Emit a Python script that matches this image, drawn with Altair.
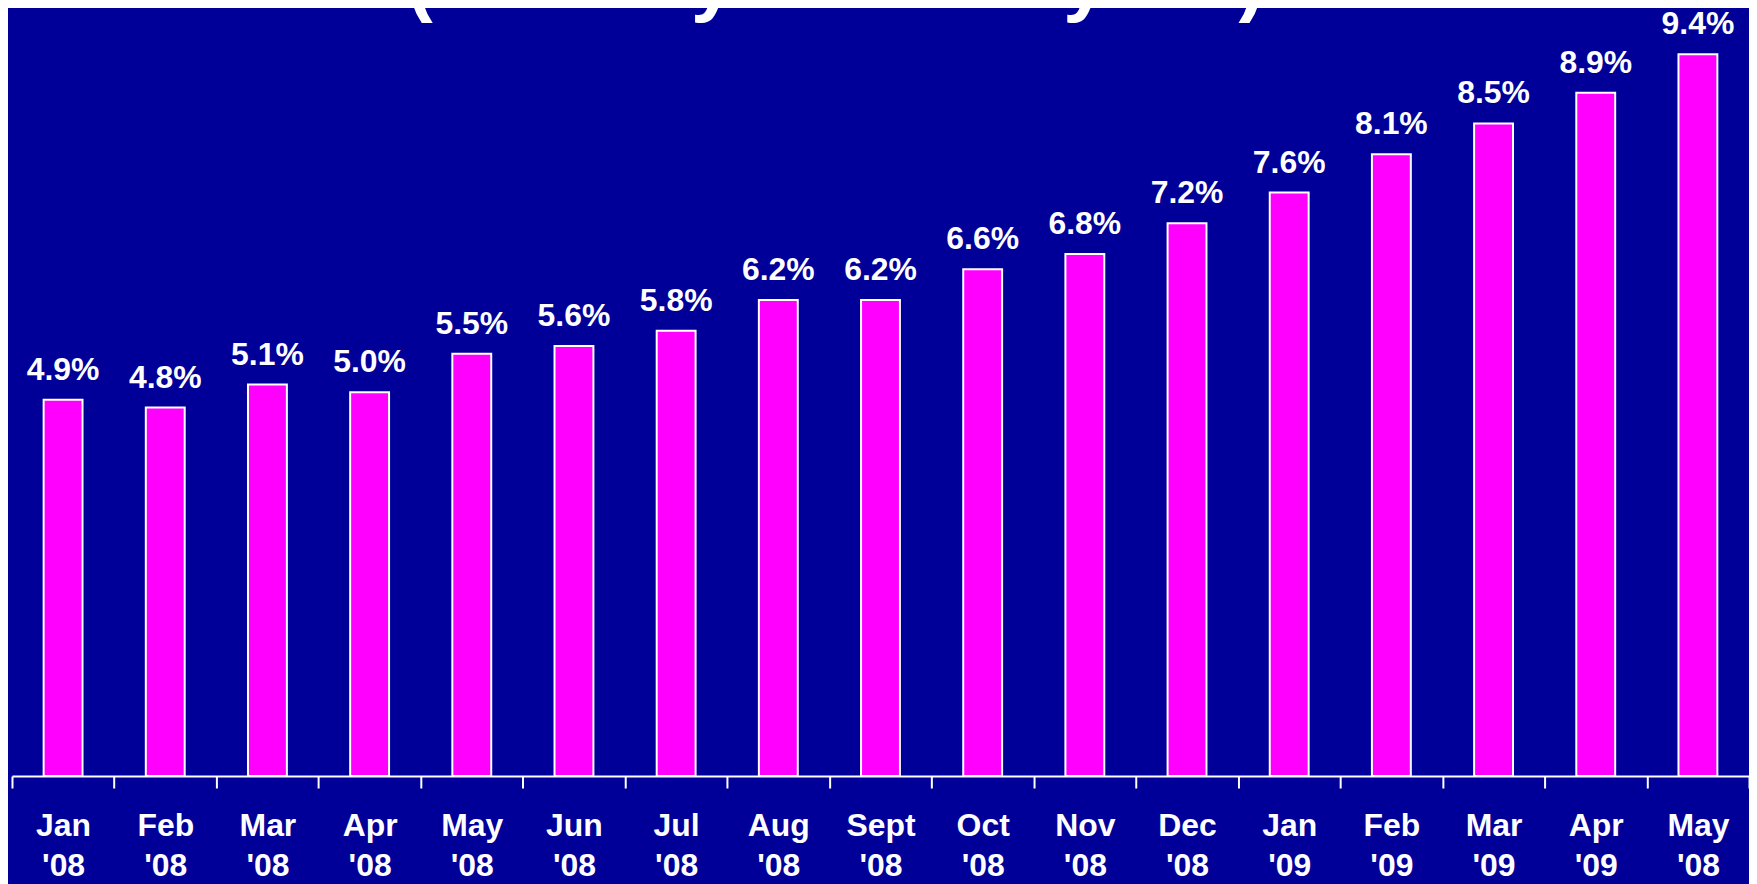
import altair as alt
import pandas as pd

months = ["Jan", "Feb", "Mar", "Apr", "May", "Jun", "Jul", "Aug", "Sept", "Oct",
          "Nov", "Dec", "Jan", "Feb", "Mar", "Apr", "May"]
years = ["'08", "'08", "'08", "'08", "'08", "'08", "'08", "'08", "'08", "'08",
         "'08", "'08", "'09", "'09", "'09", "'09", "'08"]
values = [4.9, 4.8, 5.1, 5.0, 5.5, 5.6, 5.8, 6.2, 6.2, 6.6, 6.8, 7.2, 7.6, 8.1, 8.5, 8.9, 9.4]
title_text = "(January \u201908 \u2013 May \u201909)"

df = pd.DataFrame({
    "key": [f"{i:02d}|{m}|{y}" for i, (m, y) in enumerate(zip(months, years))],
    "value": values,
})

FONT = "Liberation Sans"
W, H = 1742, 769

x = alt.X(
    "key:N", sort=None, title=None,
    scale=alt.Scale(paddingInner=0, paddingOuter=0),
    axis=alt.Axis(
        labelExpr="slice(split(datum.label, '|'), 1)",
        labelAngle=0, labelColor="white", labelFont=FONT, labelFontSize=32,
        labelFontWeight="bold", labelLineHeight=40, labelPadding=23,
        labelBaseline="top", labelAlign="center",
        domainColor="white", domainWidth=2,
        tickColor="white", tickWidth=2, tickSize=12, tickBand="extent",
        grid=False,
    ),
)
y = alt.Y("value:Q", scale=alt.Scale(domain=[0, 9.987], nice=False, zero=True), axis=None)

base = alt.Chart(df)
bars = base.mark_bar(size=39, fill="#FF00FF", stroke="white", strokeWidth=2).encode(x=x, y=y)
labels = base.transform_calculate(
    lbl="format(datum.value, '.1f') + '%'"
).mark_text(
    dy=-20, baseline="alphabetic", align="center", fontSize=32,
    fontWeight="bold", font=FONT, color="white"
).encode(x=x, y=y, text="lbl:N")

title = alt.Chart(pd.DataFrame({"t": [title_text]})).mark_text(
    font=FONT, fontSize=79, fontWeight="bold", color="white",
    align="center", baseline="alphabetic"
).encode(x=alt.value(826), y=alt.value(-3), text="t:N")

chart = alt.layer(bars, labels, title).properties(
    width=W, height=H,
    autosize=alt.AutoSizeParams(type="none"),
    padding={"left": 4, "top": 0, "right": 0, "bottom": 107},
    background="#000099",
).configure_view(strokeWidth=0)

chart.save("out.html", embed_options={"renderer": "svg", "actions": False})
